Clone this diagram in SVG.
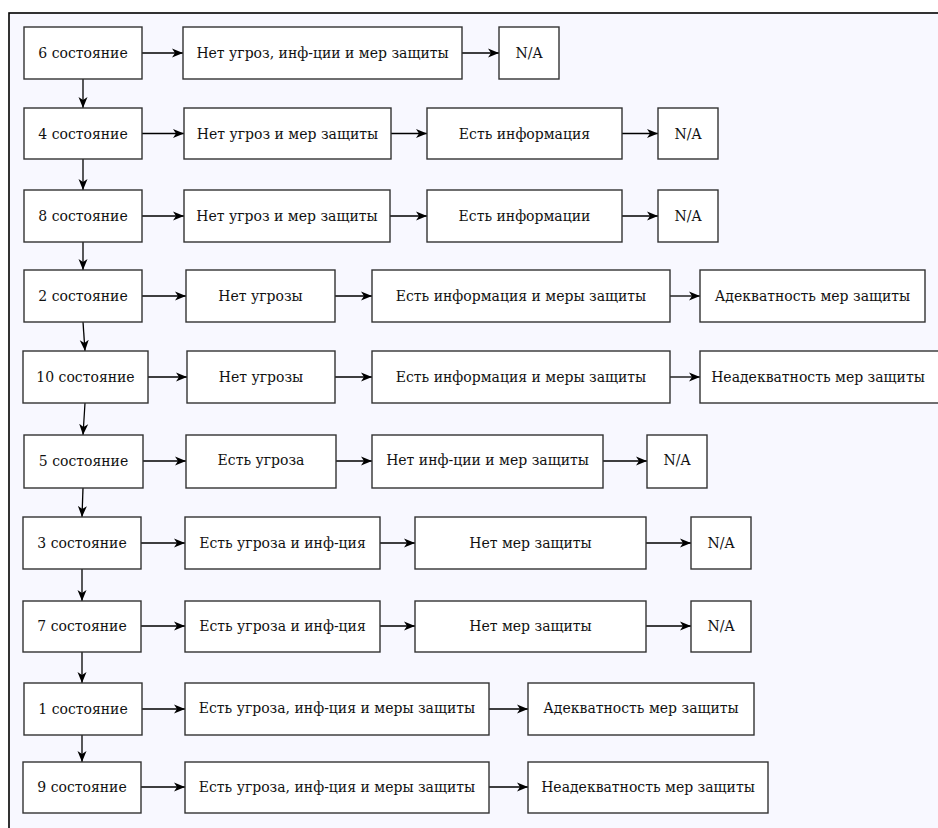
<svg xmlns="http://www.w3.org/2000/svg" width="938" height="828" viewBox="0 0 938 828">
<defs>
<marker id="ah" markerWidth="12" markerHeight="10" refX="11" refY="5" orient="auto" markerUnits="userSpaceOnUse">
<path d="M0,0.5 L11,5 L0,9.5 L3,5 Z" fill="#000"/>
</marker>
<style>
.b{fill:#fff;stroke:#333;stroke-width:1.4}
.t{font-size:14px;fill:#111;text-anchor:middle}
.c{fill:none;stroke:#000;stroke-width:1.3;marker-end:url(#ah)}
</style>
</defs>
<rect x="0" y="0" width="938" height="828" fill="#fff"/>
<rect x="9" y="13" width="940" height="830" fill="#f8f8ff" stroke="#000" stroke-width="1.6"/>
<g id="connectors">
<path class="c" d="M142,53 L183,53"/>
<path class="c" d="M462,53 L499,53"/>
<path class="c" d="M142,133.5 L184,133.5"/>
<path class="c" d="M391,133.5 L427,133.5"/>
<path class="c" d="M622,133.5 L658,133.5"/>
<path class="c" d="M142,216 L184,216"/>
<path class="c" d="M390,216 L427,216"/>
<path class="c" d="M622,216 L658,216"/>
<path class="c" d="M142,296 L186,296"/>
<path class="c" d="M335,296 L372,296"/>
<path class="c" d="M670,296 L700,296"/>
<path class="c" d="M148,377 L187,377"/>
<path class="c" d="M335,377 L372,377"/>
<path class="c" d="M670,377 L700,377"/>
<path class="c" d="M143,461 L186,461"/>
<path class="c" d="M336,461 L372,461"/>
<path class="c" d="M603,461 L647,461"/>
<path class="c" d="M141,543 L185,543"/>
<path class="c" d="M380,543 L415,543"/>
<path class="c" d="M646,543 L691,543"/>
<path class="c" d="M141,626 L185,626"/>
<path class="c" d="M380,626 L415,626"/>
<path class="c" d="M646,626 L691,626"/>
<path class="c" d="M142,709 L185,709"/>
<path class="c" d="M489,709 L528,709"/>
<path class="c" d="M141,787 L185,787"/>
<path class="c" d="M489,787 L528,787"/>
<path class="c" d="M83,79 L83,108"/>
<path class="c" d="M83,159 L83,190"/>
<path class="c" d="M83,242 L83,270"/>
<path class="c" d="M83,322 L85,351"/>
<path class="c" d="M85,403 L83,435"/>
<path class="c" d="M83,488 L82,517"/>
<path class="c" d="M82,569 L82,601"/>
<path class="c" d="M82,652 L82,683"/>
<path class="c" d="M82,735 L82,762"/>
</g>
<g font-family="'DejaVu Serif', serif">
<g id="s6"><rect class="b" x="24" y="27" width="118" height="52"/><text class="t" x="83" y="58">6 состояние</text></g>
<g id="r1b"><rect class="b" x="183" y="27" width="279" height="52"/><text class="t" x="322.5" y="58">Нет угроз, инф-ции и мер защиты</text></g>
<g id="r1c"><rect class="b" x="499" y="27" width="60" height="52"/><text class="t" x="529" y="58">N/A</text></g>

<g id="s4"><rect class="b" x="24" y="108" width="118" height="51"/><text class="t" x="83" y="138.5">4 состояние</text></g>
<g id="r2b"><rect class="b" x="184" y="108" width="207" height="51"/><text class="t" x="287.5" y="138.5">Нет угроз и мер защиты</text></g>
<g id="r2c"><rect class="b" x="427" y="108" width="195" height="51"/><text class="t" x="524.5" y="138.5">Есть информация</text></g>
<g id="r2d"><rect class="b" x="658" y="108" width="60" height="51"/><text class="t" x="688" y="138.5">N/A</text></g>

<g id="s8"><rect class="b" x="24" y="190" width="118" height="52"/><text class="t" x="83" y="221">8 состояние</text></g>
<g id="r3b"><rect class="b" x="184" y="190" width="206" height="52"/><text class="t" x="287" y="221">Нет угроз и мер защиты</text></g>
<g id="r3c"><rect class="b" x="427" y="190" width="195" height="52"/><text class="t" x="524.5" y="221">Есть информации</text></g>
<g id="r3d"><rect class="b" x="658" y="190" width="60" height="52"/><text class="t" x="688" y="221">N/A</text></g>

<g id="s2"><rect class="b" x="24" y="270" width="118" height="52"/><text class="t" x="83" y="301">2 состояние</text></g>
<g id="r4b"><rect class="b" x="186" y="270" width="149" height="52"/><text class="t" x="260.5" y="301">Нет угрозы</text></g>
<g id="r4c"><rect class="b" x="372" y="270" width="298" height="52"/><text class="t" x="521" y="301">Есть информация и меры защиты</text></g>
<g id="r4d"><rect class="b" x="700" y="270" width="225" height="52"/><text class="t" x="812.5" y="301">Адекватность мер защиты</text></g>

<g id="s10"><rect class="b" x="23" y="351" width="125" height="52"/><text class="t" x="85.5" y="382">10 состояние</text></g>
<g id="r5b"><rect class="b" x="187" y="351" width="148" height="52"/><text class="t" x="261" y="382">Нет угрозы</text></g>
<g id="r5c"><rect class="b" x="372" y="351" width="298" height="52"/><text class="t" x="521" y="382">Есть информация и меры защиты</text></g>
<g id="r5d"><rect class="b" x="700" y="351" width="240" height="52"/><text class="t" x="818" y="382">Неадекватность мер защиты</text></g>

<g id="s5"><rect class="b" x="24" y="435" width="119" height="53"/><text class="t" x="83.5" y="466">5 состояние</text></g>
<g id="r6b"><rect class="b" x="186" y="435" width="150" height="53"/><text class="t" x="261" y="465">Есть угроза</text></g>
<g id="r6c"><rect class="b" x="372" y="435" width="231" height="53"/><text class="t" x="487.5" y="465">Нет инф-ции и мер защиты</text></g>
<g id="r6d"><rect class="b" x="647" y="435" width="60" height="53"/><text class="t" x="677" y="465">N/A</text></g>

<g id="s3"><rect class="b" x="23" y="517" width="118" height="52"/><text class="t" x="82" y="548">3 состояние</text></g>
<g id="r7b"><rect class="b" x="185" y="517" width="195" height="52"/><text class="t" x="282.5" y="548">Есть угроза и инф-ция</text></g>
<g id="r7c"><rect class="b" x="415" y="517" width="231" height="52"/><text class="t" x="530.5" y="548">Нет мер защиты</text></g>
<g id="r7d"><rect class="b" x="691" y="517" width="60" height="52"/><text class="t" x="721" y="548">N/A</text></g>

<g id="s7"><rect class="b" x="23" y="601" width="118" height="51"/><text class="t" x="82" y="631">7 состояние</text></g>
<g id="r8b"><rect class="b" x="185" y="601" width="195" height="51"/><text class="t" x="282.5" y="631">Есть угроза и инф-ция</text></g>
<g id="r8c"><rect class="b" x="415" y="601" width="231" height="51"/><text class="t" x="530.5" y="631">Нет мер защиты</text></g>
<g id="r8d"><rect class="b" x="691" y="601" width="60" height="51"/><text class="t" x="721" y="631">N/A</text></g>

<g id="s1"><rect class="b" x="24" y="683" width="118" height="52"/><text class="t" x="83" y="714">1 состояние</text></g>
<g id="r9b"><rect class="b" x="185" y="683" width="304" height="52"/><text class="t" x="337" y="713">Есть угроза, инф-ция и меры защиты</text></g>
<g id="r9c"><rect class="b" x="528" y="683" width="226" height="52"/><text class="t" x="641" y="713">Адекватность мер защиты</text></g>

<g id="s9"><rect class="b" x="23" y="762" width="118" height="51"/><text class="t" x="82" y="792">9 состояние</text></g>
<g id="r10b"><rect class="b" x="185" y="762" width="304" height="51"/><text class="t" x="337" y="792">Есть угроза, инф-ция и меры защиты</text></g>
<g id="r10c"><rect class="b" x="528" y="762" width="240" height="51"/><text class="t" x="648" y="792">Неадекватность мер защиты</text></g>
</g>
</svg>
